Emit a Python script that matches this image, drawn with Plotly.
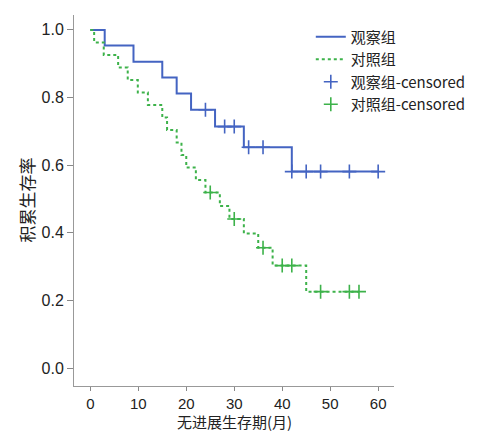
import plotly.graph_objects as go

# Observation group (观察组) step data
obs_times = [0, 3, 9, 15, 18, 21, 26, 32, 42]
obs_surv = [1.0, 0.954, 0.906, 0.859, 0.812, 0.764, 0.714, 0.653, 0.581]
obs_end = 60
obs_cens = [24, 28, 30, 33, 36, 42, 45, 48, 54, 60]

# Control group (对照组) step data
ctl_times = [0, 0.8, 2.8, 5.8, 7.8, 9.9, 12, 15, 16, 18, 19, 20, 22, 24, 27, 29, 32, 35, 38, 45]
ctl_surv = [1.0, 0.963, 0.926, 0.889, 0.852, 0.815, 0.778, 0.741, 0.704, 0.667,
            0.630, 0.593, 0.556, 0.519, 0.479, 0.441, 0.398, 0.356, 0.303, 0.226]
ctl_end = 56
ctl_cens = [25, 30, 36, 40, 42, 48, 54, 56]

x_ticks = [0, 10, 20, 30, 40, 50, 60]
y_ticks = [0.0, 0.2, 0.4, 0.6, 0.8, 1.0]
y_tick_text = ["0.0", "0.2", "0.4", "0.6", "0.8", "1.0"]
x_title = "无进展生存期(月)"
y_title = "积累生存率"

BLUE = "#4464C2"
GREEN = "#3DB24A"
FONT = "Noto Sans CJK SC"
TICK_FONT = "Liberation Sans"


def surv_at(times, surv, t):
    val = surv[0]
    for tt, s in zip(times, surv):
        if tt <= t:
            val = s
    return val


fig = go.Figure()
fig.add_trace(go.Scatter(
    x=obs_times + [obs_end], y=obs_surv + [obs_surv[-1]],
    mode="lines", line=dict(shape="hv", color=BLUE, width=2),
    name="观察组"))
fig.add_trace(go.Scatter(
    x=ctl_times + [ctl_end], y=ctl_surv + [ctl_surv[-1]],
    mode="lines", line=dict(shape="hv", color=GREEN, width=2, dash="dot"),
    name="对照组"))
fig.add_trace(go.Scatter(
    x=obs_cens, y=[surv_at(obs_times, obs_surv, t) for t in obs_cens],
    mode="markers",
    marker=dict(symbol="cross-thin", size=10, line=dict(color=BLUE, width=1.6)),
    name="观察组-censored"))
fig.add_trace(go.Scatter(
    x=ctl_cens, y=[surv_at(ctl_times, ctl_surv, t) for t in ctl_cens],
    mode="markers",
    marker=dict(symbol="cross-thin", size=10, line=dict(color=GREEN, width=1.6)),
    name="对照组-censored"))

# page body has an 8px margin, so the figure is sized 8px smaller
fig.update_layout(
    width=482, height=424,
    margin=dict(l=66, r=96, t=7, b=46, autoexpand=False),
    paper_bgcolor="white", plot_bgcolor="white",
    font=dict(family=FONT, size=16, color="#222"),
    showlegend=True,
    legend=dict(x=0.74, y=0.985, xanchor="left", yanchor="top",
                font=dict(size=15, family=FONT), bgcolor="rgba(0,0,0,0)",
                tracegroupgap=0),
    xaxis=dict(range=[-3.4, 63.3], tickvals=x_ticks, ticks="outside", ticklen=4,
               tickcolor="#888", showline=True, linecolor="#999", linewidth=1,
               showgrid=False, zeroline=False, automargin=False,
               tickfont=dict(size=15, family=TICK_FONT)),
    yaxis=dict(range=[-0.053, 1.044], tickvals=y_ticks, ticktext=y_tick_text,
               ticks="outside", ticklen=6, tickcolor="#888", showline=True,
               linecolor="#999", linewidth=1, showgrid=False, zeroline=False,
               automargin=False, tickfont=dict(size=16, family=TICK_FONT)),
    annotations=[
        dict(text=x_title, xref="paper", yref="paper", x=0.5, y=-0.095,
             xanchor="center", yanchor="middle", showarrow=False,
             font=dict(size=15, family=FONT, color="#222")),
        dict(text=y_title, xref="paper", yref="paper", x=-0.15, y=0.5,
             xanchor="center", yanchor="middle", showarrow=False, textangle=-90,
             font=dict(size=17, family=FONT, color="#222")),
    ],
)

fig.write_html("out.html")
